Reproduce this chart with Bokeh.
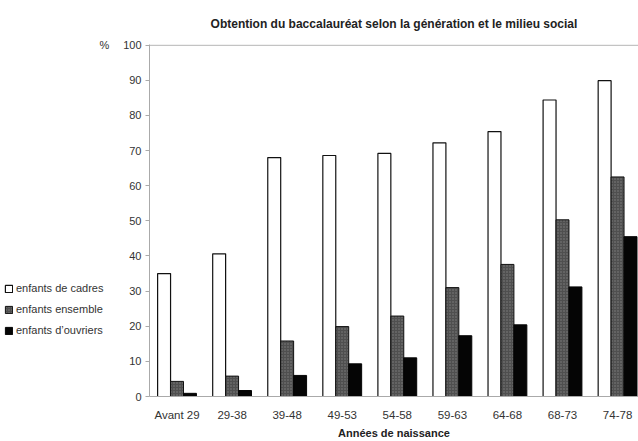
from bokeh.plotting import figure
from bokeh.layouts import row
from bokeh.models import Range1d, FixedTicker, Legend, LegendItem, Span, Label
from bokeh.embed import file_html
from bokeh.resources import INLINE

categories = ["Avant 29", "29-38", "39-48", "49-53", "54-58", "59-63", "64-68", "68-73", "74-78"]
cadres = [35.0, 40.6, 68.0, 68.6, 69.2, 72.2, 75.4, 84.4, 89.9]
ensemble = [4.3, 5.8, 15.8, 19.9, 22.9, 31.0, 37.6, 50.3, 62.5]
ouvriers = [0.9, 1.7, 6.0, 9.3, 11.0, 17.3, 20.4, 31.2, 45.5]
series_labels = ["enfants de cadres", "enfants ensemble", "enfants d\u2019ouvriers"]
yticks = list(range(0, 101, 10))

FONT = "Liberation Sans"
centers = [i + 0.5 for i in range(len(categories))]
bw = 0.235
W_L = 118
H = 441
Y_END = 100.2

styles = [dict(fill_color="white", line_color="#111111", line_width=1.2),
          dict(fill_color="#4f4f4f", line_color="#111111", line_width=1,
               hatch_pattern="dot", hatch_color="#b0b0b0", hatch_scale=3, hatch_alpha=0.5),
          dict(fill_color="#050505", line_color="#050505", line_width=1)]

# ---- left panel: legend and "%" (pixel coordinates, y up from the bottom) ----
pl = figure(width=W_L, height=H, output_backend="svg", toolbar_location=None,
            x_range=Range1d(0, W_L), y_range=Range1d(0, H),
            x_axis_location=None, y_axis_location=None,
            min_border_left=0, min_border_right=0, min_border_top=0, min_border_bottom=0)
pl.frame_align = False
pl.outline_line_color = None
pl.grid.visible = False
# legend swatch renderers, kept below the visible range
dummy = [pl.vbar(x=[W_L / 2], top=[-20], bottom=[-30], width=1, **st) for st in styles]
legend = Legend(items=[LegendItem(label=lab, renderers=[r]) for lab, r in zip(series_labels, dummy)],
                location=(4, H - 336), orientation="vertical",
                border_line_color=None, background_fill_alpha=0,
                glyph_width=9, glyph_height=9, label_height=12, spacing=9,
                padding=0, margin=0, label_standoff=3,
                label_text_font=FONT, label_text_font_size="11px", label_text_color="#333333")
pl.add_layout(legend)
pl.add_layout(Label(x=104, y=H - 44, text="%", text_font=FONT, text_font_size="11px",
                    text_color="#333333", text_align="center", text_baseline="middle"))

# ---- main chart ----
p = figure(width=638 - W_L, height=H, output_backend="svg", toolbar_location=None,
           x_range=Range1d(0, 8.88), y_range=Range1d(0, Y_END),
           min_border_left=149 - W_L, min_border_right=0, min_border_top=43, min_border_bottom=45,
           title="Obtention du baccalauréat selon la génération et le milieu social")
p.background_fill_color = "white"
p.border_fill_color = "white"
p.outline_line_color = None
p.grid.visible = False

p.title.align = "center"
p.title.text_font = FONT
p.title.text_font_size = "12px"
p.title.text_font_style = "bold"
p.title.text_color = "#222222"
p.title.standoff = 28

r1 = p.vbar(x=[c - bw for c in centers], top=cadres, width=bw, **styles[0])
r2 = p.vbar(x=centers, top=ensemble, width=bw, **styles[1])
r3 = p.vbar(x=[c + bw for c in centers], top=ouvriers, width=bw, **styles[2])

p.add_layout(Span(location=100, dimension="width", line_color="#a8a8a8", line_width=1))

p.yaxis.ticker = FixedTicker(ticks=yticks)
p.yaxis.major_label_text_font = FONT
p.yaxis.major_label_text_font_size = "11px"
p.yaxis.major_label_text_color = "#333333"
p.yaxis.axis_line_color = "#aaaaaa"
p.yaxis.major_tick_line_color = "#aaaaaa"
p.yaxis.major_tick_out = 4
p.yaxis.major_tick_in = 0
p.yaxis.minor_tick_line_color = None
p.yaxis.major_label_standoff = 4

p.xaxis.ticker = FixedTicker(ticks=centers)
p.xaxis.major_label_overrides = {c: lab for c, lab in zip(centers, categories)}
p.xaxis.major_label_text_font = FONT
p.xaxis.major_label_text_font_size = "11.5px"
p.xaxis.major_label_text_color = "#333333"
p.xaxis.axis_line_color = "#aaaaaa"
p.xaxis.major_tick_line_color = None
p.xaxis.minor_tick_line_color = None
p.xaxis.major_label_standoff = 6
p.xaxis.axis_label = "Années de naissance"
p.xaxis.axis_label_text_font = FONT
p.xaxis.axis_label_text_font_size = "11px"
p.xaxis.axis_label_text_font_style = "bold"
p.xaxis.axis_label_text_color = "#222222"
p.xaxis.axis_label_standoff = 3

layout = row(pl, p, spacing=0)
open("out.html", "w").write(file_html(layout, INLINE))
